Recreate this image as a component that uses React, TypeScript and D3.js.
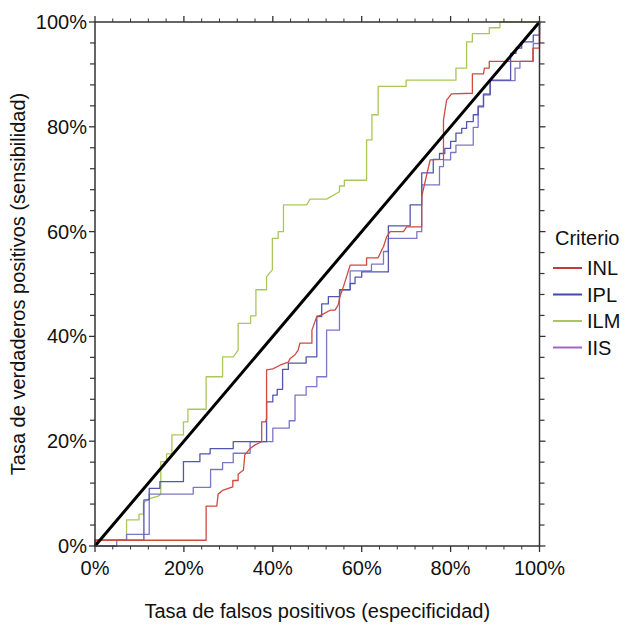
import React from 'react';
import * as d3 from 'd3';

type Pt = [number, number];

const seriesNames = ['INL', 'IPL', 'ILM', 'IIS'];
const legendColors = ['#c23a40', '#3d4ba8', '#a9c75a', '#a365c2'];
const lineColors = ['#cf4a40', '#5256b0', '#a9c75a', '#7a76c8'];

// [FPR %, TPR %]
const inlPoints: Pt[] = [[0,0],[0,1.1],[25.0,1.1],[25.0,7.6],[27.4,7.6],[27.7,9.9],[28.7,10.6],[30.0,11.0],[31.0,11.3],[31.0,12.5],[32.2,12.5],[32.2,13.7],[33.4,14.5],[33.7,17.4],[34.9,18.6],[36.0,19.3],[37.5,19.9],[37.5,23.7],[38.4,23.7],[38.6,24.4],[38.6,33.6],[40.0,33.8],[41.6,34.5],[43.5,35.1],[43.9,35.8],[45.0,36.5],[45.7,37.4],[46.1,38.7],[48.8,38.7],[48.8,41.2],[49.9,43.8],[51.0,44.1],[52.9,45.0],[54.0,45.0],[54.7,46.0],[55.1,47.6],[55.9,49.5],[57.4,53.6],[61.1,53.6],[61.1,55.0],[63.7,55.0],[64.5,56.5],[64.9,57.1],[65.6,59.0],[66.4,60.0],[69.4,60.0],[70.1,60.9],[73.5,60.9],[73.5,66.7],[75.4,73.7],[78.4,73.8],[78.4,81.3],[79.1,85.1],[80.2,86.3],[84.9,86.4],[84.9,90.1],[87.4,90.1],[87.6,91.2],[88.7,91.2],[88.7,92.5],[98.5,92.5],[98.5,95.0],[100,95.0],[100,100]];

const iplPoints: Pt[] = [[0,0],[0,1.1],[11.0,1.1],[11.0,8.8],[12.2,8.8],[12.2,11.0],[14.6,11.0],[14.6,12.3],[19.9,12.3],[19.9,16.1],[23.6,16.1],[23.6,17.6],[25.9,17.6],[25.9,18.6],[31.1,18.6],[31.1,19.9],[38.6,19.9],[38.6,27.5],[40.0,27.5],[40.0,28.8],[41.0,28.8],[41.0,29.9],[42.2,29.9],[42.2,33.7],[43.5,33.7],[43.5,34.9],[47.5,34.9],[47.5,36.1],[49.9,36.1],[49.9,43.8],[51.0,43.8],[51.0,46.2],[52.5,46.2],[52.5,47.6],[55.1,47.6],[55.1,48.9],[57.4,48.9],[57.4,50.1],[58.5,50.1],[58.5,51.3],[60.0,51.3],[60.0,52.3],[66.0,52.3],[66.0,61.1],[70.9,61.1],[70.9,65.1],[73.5,65.1],[73.5,71.2],[76.1,71.2],[76.1,73.8],[77.5,73.8],[77.5,74.9],[78.7,74.9],[78.7,75.9],[80.0,75.9],[80.0,77.2],[81.2,77.2],[81.2,78.8],[82.5,78.8],[82.5,79.7],[83.6,79.7],[83.6,81.0],[85.1,81.0],[85.1,82.3],[86.2,82.3],[86.2,83.8],[87.4,83.8],[87.4,86.1],[88.9,86.1],[88.9,88.9],[93.5,88.9],[93.5,94.0],[94.7,94.0],[94.7,95.0],[96.0,95.0],[96.0,96.2],[98.6,96.2],[98.6,97.5],[100,97.5],[100,100]];

const ilmPoints: Pt[] = [[0,0],[0.4,1.1],[7.1,1.1],[7.1,5.0],[9.9,5.0],[9.9,6.1],[10.9,6.1],[10.9,8.2],[12.1,9.0],[14.2,9.5],[14.8,9.9],[14.8,16.1],[16.1,16.1],[16.1,17.6],[17.3,17.6],[17.3,21.2],[19.9,21.2],[19.9,23.7],[20.9,23.7],[20.9,26.1],[25.0,26.1],[25.0,32.3],[28.7,32.3],[28.7,36.1],[31.1,36.1],[32.2,37.4],[32.2,42.5],[35.0,42.5],[35.0,43.9],[36.2,43.9],[36.2,48.9],[38.6,48.9],[38.6,51.4],[39.9,52.7],[39.9,58.7],[41.2,58.7],[41.2,60.0],[42.4,60.0],[42.4,65.1],[47.6,65.1],[48.4,66.2],[52.1,66.2],[55.0,67.6],[55.0,68.7],[56.1,68.7],[56.1,69.8],[61.1,69.8],[61.1,77.5],[62.3,77.5],[62.3,82.3],[63.7,82.3],[63.7,87.7],[70.0,87.7],[70.0,88.9],[81.2,88.9],[81.2,91.2],[83.6,91.2],[83.6,96.2],[84.9,96.2],[84.9,97.8],[88.7,97.8],[88.7,98.9],[91.1,98.9],[91.1,100],[100,100]];

const iisPoints: Pt[] = [[0,0],[4.9,0],[4.9,1.1],[7.1,1.1],[7.1,2.2],[12.2,2.2],[12.2,9.9],[22.1,9.9],[22.1,11.2],[26.0,11.2],[26.0,14.6],[28.7,14.6],[28.7,15.9],[31.1,15.9],[31.1,17.7],[34.9,17.7],[34.9,19.9],[40.0,19.9],[40.0,22.5],[43.7,22.5],[43.7,23.9],[45.0,23.9],[45.0,28.8],[47.5,28.8],[47.5,30.4],[49.9,30.4],[49.9,32.3],[52.1,32.3],[52.1,41.2],[55.0,41.2],[55.0,48.9],[57.4,48.9],[57.4,52.5],[62.2,52.5],[62.2,53.8],[64.9,53.8],[64.9,56.2],[66.0,56.2],[66.0,58.7],[72.4,58.7],[72.4,60.0],[73.5,60.0],[73.5,68.9],[77.5,68.9],[77.5,72.4],[78.4,72.4],[78.4,73.7],[80.0,73.7],[80.0,75.1],[81.2,75.1],[81.2,76.5],[85.1,76.5],[85.1,79.9],[86.2,79.9],[86.2,84.0],[87.4,84.0],[87.4,86.3],[88.9,86.3],[88.9,88.8],[94.5,88.8],[94.5,91.2],[95.6,91.2],[95.6,92.5],[98.6,92.5],[98.6,95.9],[100,95.9],[100,100]];

const chanceLine: Pt[] = [[0, 0], [100, 100]];

const majorTicks = [0, 20, 40, 60, 80, 100];
const tickLabels = ['0%', '20%', '40%', '60%', '80%', '100%'];
const minorTicks = [4, 8, 12, 16, 24, 28, 32, 36, 44, 48, 52, 56, 64, 68, 72, 76, 84, 88, 92, 96];

const xTitle = 'Tasa de falsos positivos (especificidad)';
const yTitle = 'Tasa de verdaderos positivos (sensibilidad)';
const legendTitle = 'Criterio';

const W = 626, H = 625;
const L = 95, R = 539.5, T = 22, B = 546;
const FONT = '"Liberation Sans", Arial, sans-serif';
const AX = '#333';

export default function App() {
  const x = d3.scaleLinear().domain([0, 100]).range([L, R]);
  const y = d3.scaleLinear().domain([0, 100]).range([B, T]);
  const line = d3.line<Pt>().x(d => x(d[0])).y(d => y(d[1]));

  const drawOrder = [
    { pts: ilmPoints, c: lineColors[2] },
    { pts: iisPoints, c: lineColors[3] },
    { pts: iplPoints, c: lineColors[1] },
    { pts: inlPoints, c: lineColors[0] },
  ];

  return (
    <svg width={W} height={H} style={{ position: 'absolute', left: 0, top: 0, background: '#fff' }} fontFamily={FONT}>
      {drawOrder.map((s, i) => (
        <path key={i} d={line(s.pts) || ''} fill="none" stroke={s.c} strokeWidth={1.3} strokeLinejoin="round" />
      ))}
      <path d={line(chanceLine) || ''} stroke="#000" strokeWidth={3} fill="none" />

      {/* frame */}
      <rect x={L} y={T} width={R - L} height={B - T} fill="none" stroke={AX} strokeWidth={1.5} />

      {/* x ticks bottom & top */}
      {majorTicks.map(t => (
        <g key={'xm' + t}>
          <line x1={x(t)} x2={x(t)} y1={B} y2={B + 6} stroke={AX} strokeWidth={1.3} />
          <line x1={x(t)} x2={x(t)} y1={T} y2={T - 6} stroke={AX} strokeWidth={1.3} />
          <line x1={L} x2={L - 6} y1={y(t)} y2={y(t)} stroke={AX} strokeWidth={1.3} />
          <line x1={R} x2={R + 6} y1={y(t)} y2={y(t)} stroke={AX} strokeWidth={1.3} />
        </g>
      ))}
      {minorTicks.map(t => (
        <g key={'xn' + t}>
          <line x1={x(t)} x2={x(t)} y1={B} y2={B + 3.5} stroke={AX} strokeWidth={1} />
          <line x1={x(t)} x2={x(t)} y1={T} y2={T - 3.5} stroke={AX} strokeWidth={1} />
          <line x1={L} x2={L - 5} y1={y(t)} y2={y(t)} stroke={AX} strokeWidth={1.2} />
          <line x1={R} x2={R + 5} y1={y(t)} y2={y(t)} stroke={AX} strokeWidth={1.2} />
        </g>
      ))}

      {majorTicks.map((t, i) => (
        <text key={'xl' + t} x={x(t)} y={575} textAnchor="middle" fontSize={20} fill="#111">{tickLabels[i]}</text>
      ))}
      {majorTicks.map((t, i) => (
        <text key={'yl' + t} x={87} y={y(t)} dy="0.35em" textAnchor="end" fontSize={20} fill="#111">{tickLabels[i]}</text>
      ))}

      <text x={(L + R) / 2} y={618} textAnchor="middle" fontSize={20} fill="#111">{xTitle}</text>
      <text transform={`translate(25, ${(T + B) / 2}) rotate(-90)`} textAnchor="middle" fontSize={20} fill="#111">{yTitle}</text>

      {/* legend */}
      <text x={555} y={245} fontSize={20} fill="#111">{legendTitle}</text>
      {seriesNames.map((n, i) => {
        const ly = 268 + i * 26.5;
        return (
          <g key={n}>
            <line x1={553} x2={582} y1={ly} y2={ly} stroke={legendColors[i]} strokeWidth={2} />
            <text x={587} y={ly} dy="0.35em" fontSize={20} fill="#111">{n}</text>
          </g>
        );
      })}
    </svg>
  );
}
